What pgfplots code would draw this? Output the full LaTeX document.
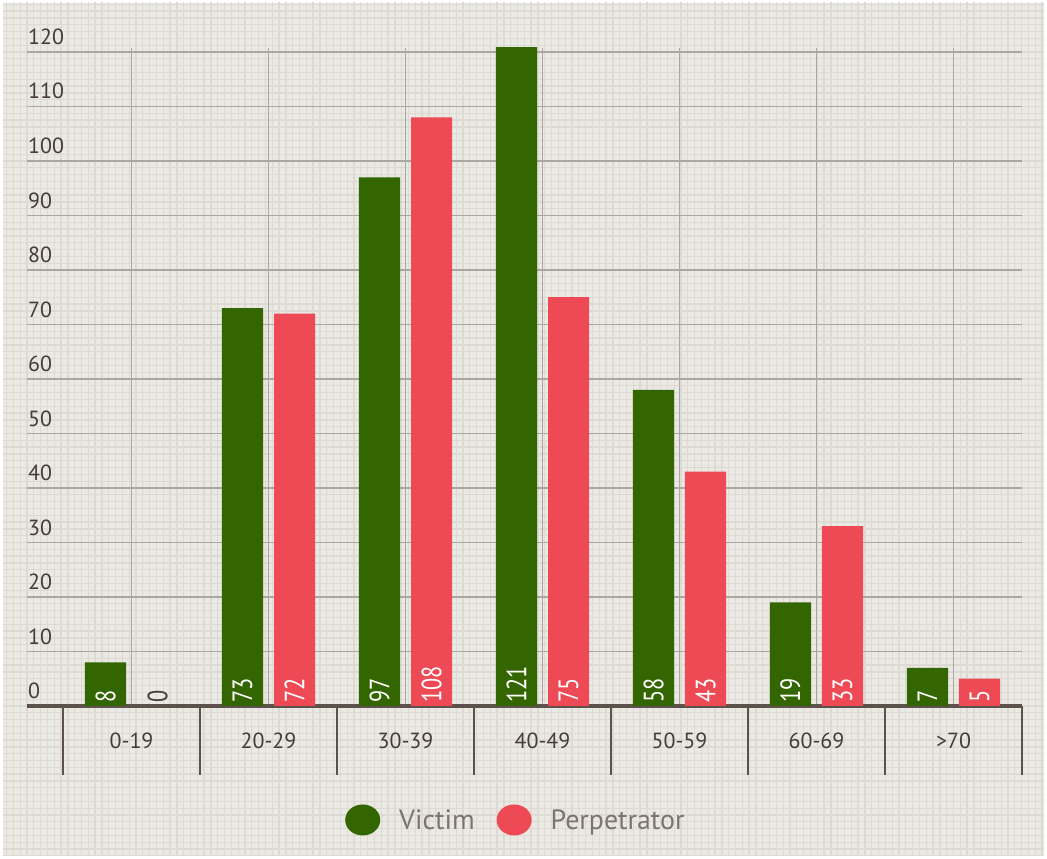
\documentclass[border=0pt]{standalone}
\usepackage{graphicx}
\usepackage{pgfplots}
\pgfplotsset{compat=1.18}
\usepackage{fontspec}
\setmainfont{PT Sans}
\newfontfamily\narrowfont[FakeStretch=0.8]{PT Sans}
\definecolor{vgreen}{HTML}{336600}
\definecolor{pred}{HTML}{EE4A55}
\definecolor{bgcol}{HTML}{EAE9E3}
\definecolor{finecol}{HTML}{DDDAD4}
\definecolor{gridcol}{HTML}{ABA6A0}
\definecolor{axiscol}{HTML}{5C514B}
\definecolor{labcol}{HTML}{463C37}
\definecolor{legcol}{HTML}{7D7470}
\begin{document}
\begin{tikzpicture}
\useasboundingbox (0,0) rectangle (1047bp,859bp);
\fill[white] (0,0) rectangle (1047bp,859bp);
\fill[bgcol] (3bp,3bp) rectangle (1044bp,856bp);
\begin{scope}
\clip (3bp,3bp) rectangle (1044bp,856bp);
\begin{scope}[shift={(27bp,153bp)}]
\draw[finecol, line width=1.3bp, step=6.8125bp] (-40bp,-160bp) grid (1030bp,710bp);
\end{scope}
\end{scope}
\begin{axis}[
  at={(27bp,153bp)}, anchor=south west,
  scale only axis, width=995bp, height=658.4bp,
  xmin=-0.763, xmax=6.5, ymin=0, ymax=120.8,
  axis x line*=bottom, axis y line*=left,
  x axis line style={draw=axiscol, line width=3bp, -},
  y axis line style={draw=none},
  xtick={0,1,2,3,4,5,6},
  xticklabels={0-19,20-29,30-39,40-49,50-59,60-69,>70},
  ytick={0,10,...,120},
  xmajorgrids, ymajorgrids,
  major grid style={draw=gridcol, line width=1.4bp},
  major tick length=0pt,
  xtick style={draw=none}, ytick style={draw=none},
  /pgf/number format/assume math mode=true,
  ticklabel style={font=\fontsize{22}{26}\selectfont, text=labcol},
  xticklabel style={anchor=north, inner sep=0pt, yshift=-27bp},
  yticklabel style={anchor=south west, inner sep=0pt, xshift=1bp, yshift=7bp},
  extra x ticks={-0.5,0.5,1.5,2.5,3.5,4.5,5.5,6.5},
  extra x tick labels={},
  extra x tick style={grid=none, major tick length=69bp, tick align=outside,
     xtick style={draw=axiscol, line width=2.5bp}},
  legend columns=2,
  legend style={draw=none, fill=none, inner sep=0pt,
    at={(0.3196,-0.1731)}, anchor=west,
    font=\fontsize{28}{32}\selectfont, text=legcol,
    /tikz/every odd column/.append style={column sep=17bp},
    /tikz/every even column/.append style={column sep=20bp}},
  bar width=0.3,
]
\addplot[ybar, fill=vgreen, draw=none, bar shift=-0.19,
  legend image code/.code={\fill[vgreen] (0bp,0bp) ellipse (17.5bp and 15.5bp);}]
  coordinates {(0,8) (1,73) (2,97) (3,121) (4,58) (5,19) (6,7)};
\addlegendentry{Victim}
\addplot[ybar, fill=pred, draw=none, bar shift=0.19,
  legend image code/.code={\fill[pred] (0bp,0bp) ellipse (17.5bp and 15.5bp);}]
  coordinates {(0,0) (1,72) (2,108) (3,75) (4,43) (5,33) (6,5)};
\addlegendentry{Perpetrator}
% value labels at the foot of the bars
\addplot[draw=none, mark=none, forget plot,
  point meta=explicit symbolic,
  nodes near coords={\rotatebox{90}{\pgfplotspointmeta}},
  nodes near coords style={font=\narrowfont\fontsize{28}{32}\selectfont, anchor=south, inner sep=3bp, text=white}]
  coordinates {(-0.19,0)[8] (0.81,0)[73] (1.81,0)[97] (2.81,0)[121] (3.81,0)[58] (4.81,0)[19] (5.81,0)[7]};
\addplot[draw=none, mark=none, forget plot,
  point meta=explicit symbolic,
  nodes near coords={\rotatebox{90}{\pgfplotspointmeta}},
  nodes near coords style={font=\narrowfont\fontsize{28}{32}\selectfont, anchor=south, inner sep=3bp, text=white}]
  coordinates {(1.19,0)[72] (2.19,0)[108] (3.19,0)[75] (4.19,0)[43] (5.19,0)[33] (6.19,0)[5]};
\addplot[draw=none, mark=none, forget plot,
  point meta=explicit symbolic,
  nodes near coords={\rotatebox{90}{\pgfplotspointmeta}},
  nodes near coords style={font=\narrowfont\fontsize{28}{32}\selectfont, anchor=south, inner sep=3bp, text=labcol}]
  coordinates {(0.19,0)[0]};
\end{axis}
\end{tikzpicture}
\end{document}
